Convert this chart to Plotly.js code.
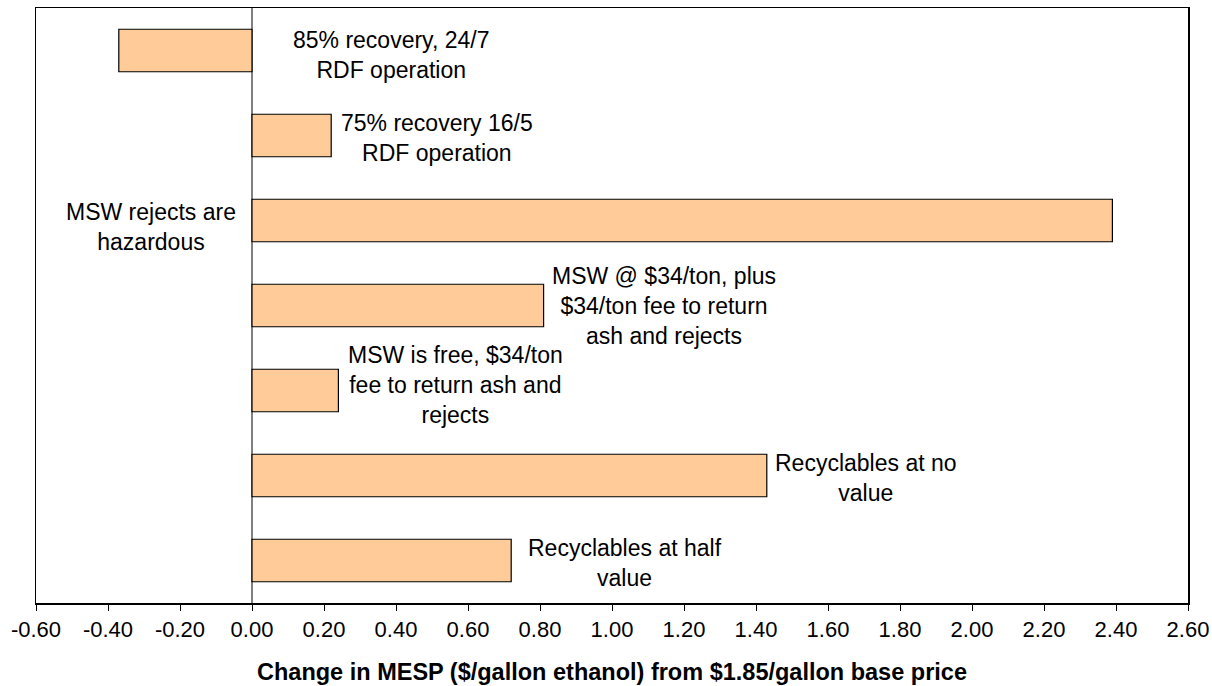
<!DOCTYPE html>
<html>
<head>
<meta charset="utf-8">
<script src="https://cdn.plot.ly/plotly-3.0.1.min.js"></script>
<style>html,body{margin:0;padding:0;background:#fff;}#chart{width:1212px;height:686px;}</style>
</head>
<body>
<div id="chart"></div>
<script>
// Scenario categories (top to bottom)
const categories = [
  "85% recovery, 24/7<br>RDF operation",
  "75% recovery 16/5<br>RDF operation",
  "MSW rejects are<br>hazardous",
  "MSW @ $34/ton, plus<br>$34/ton fee to return<br>ash and rejects",
  "MSW is free, $34/ton<br>fee to return ash and<br>rejects",
  "Recyclables at no<br>value",
  "Recyclables at half<br>value"
];
// Change in MESP ($/gallon) from $1.85/gallon base price
const mespChange = [-0.37, 0.22, 2.39, 0.81, 0.24, 1.43, 0.72];
const tickValues = [-0.6, -0.4, -0.2, 0, 0.2, 0.4, 0.6, 0.8, 1.0, 1.2, 1.4, 1.6, 1.8, 2.0, 2.2, 2.4, 2.6];
const tickLabels = tickValues.map(v => v.toFixed(2));

// label placement (layout only): x centre in data units, vertical pixel shift
const labelX = [0.387, 0.515, -0.280, 1.145, 0.565, 1.705, 1.035];
const labelShift = [-4, -2, -6, 0, 6, -2, -2];

const FONT = "Arial, 'Liberation Sans', sans-serif";

const trace = {
  type: 'bar',
  orientation: 'h',
  x: mespChange,
  y: categories,
  marker: {color: '#FFCC99', line: {color: '#000000', width: 1.2}},
  hoverinfo: 'x+y'
};

const annotations = categories.map((c, i) => ({
  x: labelX[i],
  y: c,
  xref: 'x',
  yref: 'y',
  text: c,
  showarrow: false,
  align: 'center',
  xanchor: 'center',
  yanchor: 'middle',
  yshift: labelShift[i],
  font: {family: FONT, size: 23, color: '#000'}
}));

const layout = {
  width: 1212,
  height: 686,
  margin: {l: 36, r: 24, t: 8, b: 83},
  paper_bgcolor: '#ffffff',
  plot_bgcolor: '#ffffff',
  showlegend: false,
  bargap: 0.5,
  font: {family: FONT, color: '#000'},
  xaxis: {
    range: [-0.6, 2.6],
    tickmode: 'array',
    tickvals: tickValues,
    ticktext: tickLabels,
    ticks: 'outside',
    ticklen: 6,
    tickwidth: 1,
    tickcolor: '#000',
    showgrid: false,
    zeroline: true,
    zerolinecolor: '#808080',
    zerolinewidth: 1.5,
    showline: true,
    linecolor: '#000',
    linewidth: 1.5,
    mirror: true,
    tickfont: {family: FONT, size: 22, color: '#000'},
    title: {text: '<b>Change in MESP ($/gallon ethanol) from $1.85/gallon base price</b>', font: {family: FONT, size: 23.5, color: '#000'}, standoff: 22}
  },
  yaxis: {
    type: 'category',
    autorange: 'reversed',
    showticklabels: false,
    ticks: '',
    showgrid: false,
    zeroline: false,
    showline: true,
    linecolor: '#000',
    linewidth: 1.5,
    mirror: true
  },
  annotations: annotations
};

Plotly.newPlot('chart', [trace], layout, {displayModeBar: false, staticPlot: true});
</script>
</body>
</html>
